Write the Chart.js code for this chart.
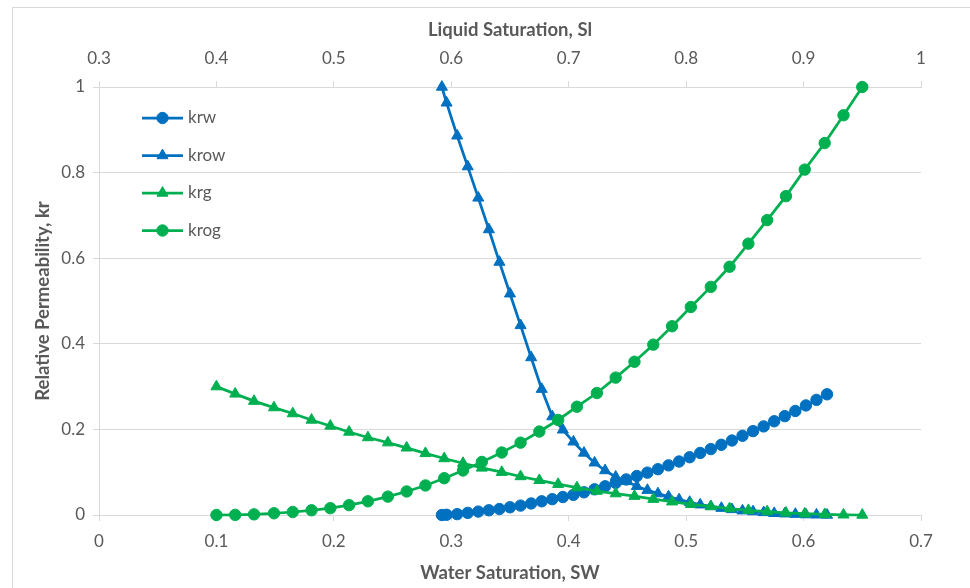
<!DOCTYPE html>
<html>
<head>
<meta charset="utf-8">
<script src="https://cdn.jsdelivr.net/npm/chart.js@4.4.1/dist/chart.umd.min.js"></script>
<style>
  html, body { margin: 0; padding: 0; background: #fff; }
  #wrap { position: relative; width: 970px; height: 588px; overflow: hidden; }
  #frame { position: absolute; left: 12px; top: 7px; width: 1000px; height: 700px;
           border-left: 1px solid #d9d9d9; border-top: 1px solid #d9d9d9; }
  canvas { position: absolute; left: 0; top: 0; }
</style>
</head>
<body>
<div id="wrap"><div id="frame"></div><canvas id="kr" width="970" height="588"></canvas></div>
<script>
// water/oil curves vs Sw (bottom axis)
const sw = [0.292, 0.296, 0.305, 0.314, 0.323, 0.332, 0.341, 0.350, 0.359, 0.368,
            0.377, 0.386, 0.395, 0.404, 0.413, 0.422, 0.431, 0.440, 0.449, 0.458,
            0.467, 0.476, 0.485, 0.494, 0.503, 0.512, 0.521, 0.530, 0.539, 0.548,
            0.557, 0.566, 0.575, 0.584, 0.593, 0.602, 0.611, 0.620];
const krw = [0, 0.0005, 0.002, 0.005, 0.008, 0.011, 0.014, 0.018, 0.022, 0.027,
             0.032, 0.037, 0.042, 0.047, 0.053, 0.060, 0.067, 0.075, 0.083, 0.091,
             0.099, 0.107, 0.116, 0.125, 0.135, 0.145, 0.154, 0.164, 0.174, 0.185,
             0.196, 0.207, 0.219, 0.231, 0.243, 0.256, 0.269, 0.282];
const krow = [1.000, 0.963, 0.886, 0.814, 0.741, 0.667, 0.591, 0.517, 0.443, 0.368,
              0.294, 0.230, 0.199, 0.171, 0.145, 0.122, 0.104, 0.089, 0.079, 0.067,
              0.058, 0.050, 0.043, 0.036, 0.030, 0.024, 0.020, 0.016, 0.013, 0.010,
              0.008, 0.006, 0.004, 0.003, 0.002, 0.001, 0.0005, 0];

// gas/liquid curves vs Sl (top axis)
const sl = [0.400, 0.416, 0.432, 0.449, 0.465, 0.481, 0.497, 0.513, 0.529, 0.546,
            0.562, 0.578, 0.594, 0.610, 0.626, 0.643, 0.659, 0.675, 0.691, 0.707,
            0.724, 0.740, 0.756, 0.772, 0.788, 0.804, 0.821, 0.837, 0.853, 0.869,
            0.885, 0.901, 0.918, 0.934, 0.950];
const krg = [0.300, 0.283, 0.266, 0.251, 0.237, 0.222, 0.208, 0.194, 0.181, 0.169,
             0.157, 0.144, 0.132, 0.121, 0.110, 0.100, 0.090, 0.081, 0.072, 0.064,
             0.056, 0.050, 0.044, 0.037, 0.031, 0.025, 0.020, 0.015, 0.011, 0.008,
             0.005, 0.003, 0.0015, 0.0005, 0];
const krog = [0, 0.0003, 0.0015, 0.004, 0.007, 0.011, 0.016, 0.023, 0.032, 0.043,
              0.055, 0.069, 0.086, 0.104, 0.124, 0.146, 0.169, 0.195, 0.222, 0.253,
              0.285, 0.321, 0.358, 0.398, 0.441, 0.486, 0.533, 0.580, 0.634, 0.689,
              0.745, 0.807, 0.869, 0.934, 1.000];

const swTicks = [0, 0.1, 0.2, 0.3, 0.4, 0.5, 0.6, 0.7];
const slTicks = [0.3, 0.4, 0.5, 0.6, 0.7, 0.8, 0.9, 1];
const krTicks = [0, 0.2, 0.4, 0.6, 0.8, 1];

const BLUE = '#0070C0', GREEN = '#00B050', GRID = '#d9d9d9', TXT = '#595959';

Chart.defaults.font.family = 'Lato';
Chart.defaults.color = TXT;

const pts = (xs, ys) => xs.map((x, i) => ({ x: x, y: ys[i] }));

function series(label, xs, ys, color, style, axis, order) {
  return {
    label: label,
    data: pts(xs, ys),
    xAxisID: axis,
    order: order,
    showLine: true,
    borderColor: color,
    backgroundColor: color,
    borderWidth: 2.75,
    pointStyle: style,
    pointRadius: style === 'triangle' ? 6.4 : 5.7,
    pointBorderWidth: 1,
    pointBorderColor: color,
    pointBackgroundColor: color,
    tension: 0,
    clip: false
  };
}

// legend drawn inside the plot, top-left, one entry per row
const insideLegend = {
  id: 'insideLegend',
  afterDraw(chart) {
    const ctx = chart.ctx;
    chart.data.datasets.forEach((ds, i) => {
      const y = 118 + i * 37.5;
      ctx.save();
      ctx.strokeStyle = ds.borderColor;
      ctx.lineWidth = ds.borderWidth;
      ctx.beginPath();
      ctx.moveTo(142, y);
      ctx.lineTo(183, y);
      ctx.stroke();
      ctx.fillStyle = ds.pointBackgroundColor;
      ctx.strokeStyle = ds.pointBorderColor;
      ctx.lineWidth = 1;
      Chart.helpers.drawPoint(ctx, { pointStyle: ds.pointStyle, radius: ds.pointRadius, borderWidth: 1, rotation: 0 }, 162.5, y);
      ctx.fillStyle = TXT;
      ctx.font = '17px Lato';
      ctx.textBaseline = 'middle';
      ctx.fillText(ds.label, 188, y);
      ctx.restore();
    });
  }
};

const useTicks = list => scale => { scale.ticks = list.map(v => ({ value: v })); };

new Chart(document.getElementById('kr'), {
  type: 'scatter',
  data: {
    datasets: [
      series('krw', sw, krw, BLUE, 'circle', 'x', 3),
      series('krow', sw, krow, BLUE, 'triangle', 'x', 2),
      series('krg', sl, krg, GREEN, 'triangle', 'x2', 1),
      series('krog', sl, krog, GREEN, 'circle', 'x2', 0)
    ]
  },
  options: {
    responsive: false,
    animation: false,
    layout: { padding: { left: 12, top: 8, right: 49, bottom: 0 } },
    plugins: { legend: { display: false }, tooltip: { enabled: false } },
    scales: {
      x: {
        type: 'linear', position: 'bottom', min: 0, max: 0.7,
        afterBuildTicks: useTicks(swTicks),
        afterFit: s => { s.height = 73; },
        grid: { drawOnChartArea: false, tickLength: 6, color: GRID },
        border: { color: GRID },
        ticks: { padding: 10, font: { size: 17 }, maxRotation: 0, autoSkip: false, callback: v => String(v) },
        title: { display: true, text: 'Water Saturation, SW', font: { size: 18.5, weight: 'bold' }, padding: { top: 0, bottom: 3.5 } }
      },
      x2: {
        type: 'linear', position: 'top', min: 0.3, max: 1,
        afterBuildTicks: useTicks(slTicks),
        afterFit: s => { s.height = 79; },
        grid: { drawOnChartArea: false, tickLength: 6, color: GRID },
        border: { color: GRID },
        ticks: { padding: 12.5, font: { size: 17 }, maxRotation: 0, autoSkip: false, callback: v => String(v) },
        title: { display: true, text: 'Liquid Saturation, Sl', font: { size: 18.5, weight: 'bold' }, padding: { top: 11, bottom: 0 } }
      },
      y: {
        type: 'linear', position: 'left', min: 0, max: 1,
        afterBuildTicks: useTicks(krTicks),
        afterFit: s => { s.width = 87; },
        grid: { tickLength: 6, color: GRID },
        border: { color: GRID },
        ticks: { padding: 8, font: { size: 17 }, callback: v => String(v) },
        title: { display: true, text: 'Relative Permeability, kr', font: { size: 18.5, weight: 'bold' }, padding: { top: 20, bottom: 0 } }
      }
    }
  },
  plugins: [insideLegend]
});
</script>
</body>
</html>
